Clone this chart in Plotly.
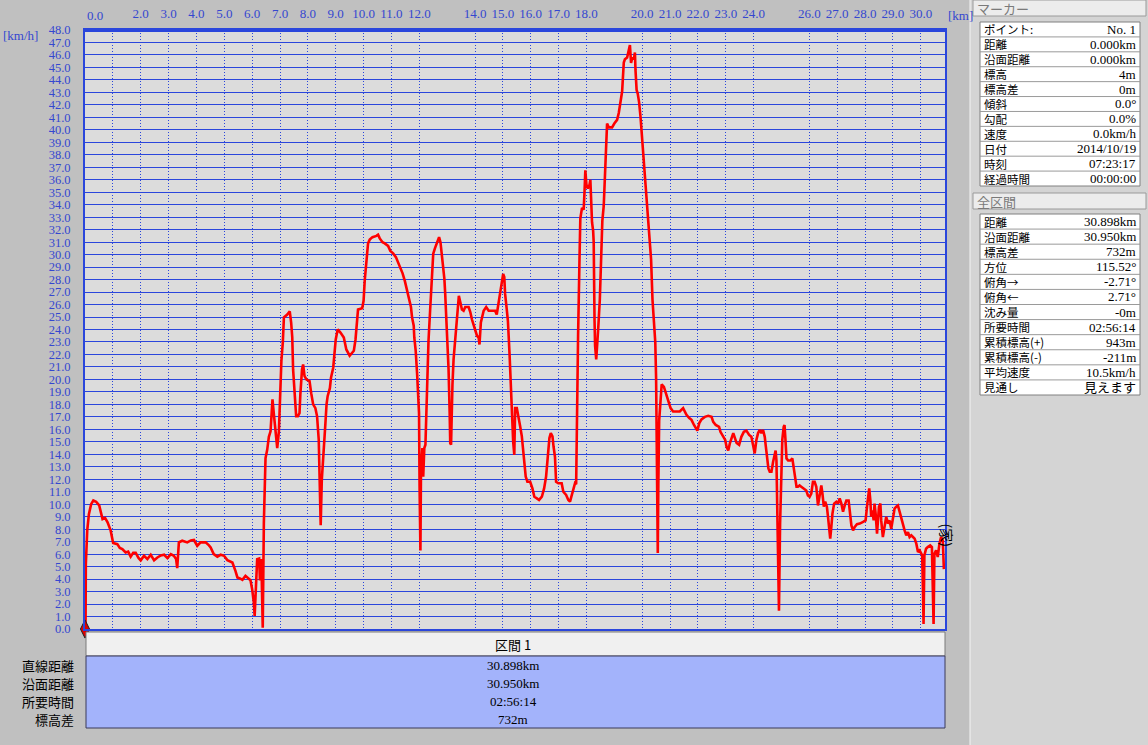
import plotly.graph_objects as go

W, H = 1148, 745

# ---------------- data ----------------
dist_km = [
    0.00, 0.02, 0.03, 0.05, 0.08, 0.14, 0.22, 0.30, 0.40, 0.51, 0.58, 0.63, 0.72, 0.81, 0.92, 1.01,
    1.16, 1.25, 1.34, 1.46, 1.55, 1.64, 1.73, 1.82, 1.92, 2.00, 2.12, 2.24, 2.36, 2.48, 2.60, 2.72,
    2.84, 2.96, 3.08, 3.19, 3.27, 3.31, 3.37, 3.49, 3.67, 3.80, 3.91, 4.03, 4.15, 4.33, 4.45, 4.51,
    4.62, 4.75, 4.87, 4.99, 5.11, 5.29, 5.40, 5.47, 5.56, 5.65, 5.76, 5.94, 6.00, 6.06, 6.09, 6.12,
    6.18, 6.25, 6.28, 6.33, 6.38, 6.42, 6.46, 6.48, 6.54, 6.60, 6.66, 6.70, 6.73, 6.78, 6.81, 6.87,
    6.90, 6.96, 6.99, 7.02, 7.05, 7.10, 7.14, 7.26, 7.35, 7.40, 7.44, 7.47, 7.52, 7.58, 7.64, 7.70,
    7.73, 7.79, 7.83, 7.88, 7.95, 8.06, 8.12, 8.19, 8.27, 8.33, 8.39, 8.43, 8.46, 8.50, 8.54, 8.57,
    8.63, 8.67, 8.71, 8.79, 8.83, 8.91, 8.95, 9.00, 9.07, 9.17, 9.29, 9.38, 9.50, 9.65, 9.71, 9.77,
    9.80, 9.95, 10.00, 10.04, 10.10, 10.16, 10.22, 10.32, 10.46, 10.52, 10.58, 10.68, 10.76, 10.88,
    10.96, 11.06, 11.16, 11.24, 11.32, 11.40, 11.48, 11.56, 11.62, 11.70, 11.74, 11.80, 11.82, 11.87,
    11.92, 11.95, 11.99, 12.01, 12.04, 12.06, 12.11, 12.14, 12.18, 12.22, 12.27, 12.33, 12.39, 12.44,
    12.50, 12.56, 12.62, 12.68, 12.71, 12.76, 12.80, 12.86, 12.90, 12.93, 12.99, 13.05, 13.09, 13.11,
    13.14, 13.16, 13.19, 13.23, 13.29, 13.35, 13.42, 13.47, 13.53, 13.59, 13.65, 13.77, 13.83, 13.89,
    13.95, 14.01, 14.07, 14.13, 14.16, 14.21, 14.25, 14.31, 14.40, 14.49, 14.66, 14.72, 14.78, 14.84,
    14.90, 14.96, 15.01, 15.05, 15.08, 15.14, 15.18, 15.24, 15.29, 15.33, 15.37, 15.41, 15.44, 15.50,
    15.56, 15.62, 15.68, 15.72, 15.76, 15.82, 15.88, 15.98, 16.06, 16.13, 16.22, 16.30, 16.40, 16.48,
    16.55, 16.60, 16.67, 16.72, 16.78, 16.82, 16.87, 16.91, 16.99, 17.11, 17.17, 17.27, 17.35, 17.41,
    17.47, 17.53, 17.59, 17.63, 17.64, 17.66, 17.70, 17.75, 17.78, 17.84, 17.90, 17.93, 17.96, 18.00,
    18.05, 18.11, 18.14, 18.17, 18.20, 18.24, 18.26, 18.29, 18.31, 18.35, 18.38, 18.42, 18.48, 18.53,
    18.57, 18.62, 18.66, 18.71, 18.74, 18.80, 18.92, 19.00, 19.10, 19.16, 19.22, 19.28, 19.34, 19.38,
    19.46, 19.52, 19.56, 19.60, 19.65, 19.70, 19.74, 19.76, 19.80, 19.84, 19.89, 19.94, 20.00, 20.04,
    20.08, 20.13, 20.18, 20.24, 20.28, 20.32, 20.37, 20.42, 20.47, 20.50, 20.52, 20.54, 20.56, 20.58,
    20.61, 20.66, 20.70, 20.78, 20.85, 20.94, 21.02, 21.11, 21.23, 21.35, 21.47, 21.53, 21.59, 21.69,
    21.77, 21.86, 21.93, 21.98, 22.05, 22.13, 22.25, 22.37, 22.49, 22.55, 22.64, 22.76, 22.81, 22.91,
    22.98, 23.03, 23.09, 23.15, 23.21, 23.27, 23.33, 23.39, 23.48, 23.56, 23.65, 23.74, 23.84, 23.92,
    23.98, 24.04, 24.10, 24.16, 24.22, 24.28, 24.34, 24.40, 24.44, 24.48, 24.53, 24.58, 24.64, 24.70,
    24.76, 24.79, 24.82, 24.85, 24.89, 24.91, 24.95, 24.99, 25.03, 25.08, 25.11, 25.14, 25.18, 25.24,
    25.32, 25.39, 25.44, 25.49, 25.54, 25.59, 25.65, 25.71, 25.80, 25.89, 25.95, 26.01, 26.07, 26.13,
    26.19, 26.25, 26.31, 26.37, 26.43, 26.47, 26.52, 26.57, 26.63, 26.67, 26.71, 26.75, 26.79, 26.83,
    26.89, 26.97, 27.03, 27.09, 27.15, 27.21, 27.27, 27.33, 27.41, 27.45, 27.51, 27.57, 27.63, 27.71,
    27.81, 27.93, 28.02, 28.07, 28.12, 28.15, 28.19, 28.22, 28.26, 28.31, 28.34, 28.38, 28.43, 28.46,
    28.50, 28.55, 28.58, 28.64, 28.70, 28.76, 28.82, 28.88, 28.94, 29.00, 29.06, 29.12, 29.18, 29.24,
    29.30, 29.36, 29.42, 29.48, 29.54, 29.60, 29.66, 29.72, 29.78, 29.84, 29.90, 29.96, 30.02, 30.05,
    30.08, 30.10, 30.13, 30.19, 30.25, 30.34, 30.40, 30.43, 30.46, 30.49, 30.55, 30.61, 30.67, 30.73,
    30.79, 30.83,
]
speed_kmh = [
    0.0, 0.3, 5.2, 6.9, 7.9, 9.2, 10.0, 10.3, 10.2, 9.9, 9.3, 8.8, 8.9, 8.55, 7.9, 6.9,
    6.8, 6.5, 6.4, 6.13, 6.2, 5.8, 6.1, 6.1, 5.7, 5.5, 5.87, 5.6, 5.95, 5.5, 5.73, 5.9,
    5.95, 5.68, 6.0, 5.87, 5.6, 4.88, 6.94, 7.07, 6.94, 7.1, 7.13, 6.67, 6.94, 6.94, 6.7, 6.54,
    6.0, 5.8, 5.95, 5.87, 5.52, 5.33, 4.66, 4.13, 4.05, 3.94, 4.26, 3.91, 3.19, 2.12, 1.05, 2.52,
    5.6, 5.65, 3.9, 5.6, 0.1, 8.46, 11.0, 13.7, 14.36, 15.4, 15.84, 17.3, 18.4, 17.2, 16.5, 15.7,
    14.5, 15.84, 18.1, 20.0, 21.5, 22.95, 24.97, 25.2, 25.45, 24.56, 23.36, 20.8, 19.2, 17.05, 17.05, 17.3,
    18.8, 20.8, 21.2, 20.27, 20.0, 19.87, 18.9, 18.0, 17.7, 17.05, 15.17, 12.08, 8.32, 11.95, 13.7, 14.36,
    16.5, 18.0, 18.66, 19.3, 20.13, 20.94, 21.74, 23.2, 24.0, 23.76, 23.36, 22.4, 21.9, 22.3, 23.2, 24.97,
    25.6, 25.7, 26.3, 27.9, 29.4, 30.9, 31.2, 31.4, 31.5, 31.6, 31.3, 31.0, 30.9, 30.7,
    30.3, 30.1, 29.8, 29.4, 29.0, 28.5, 27.9, 27.1, 26.4, 25.8, 24.97, 24.3, 23.36, 22.3,
    20.5, 18.9, 17.3, 11.4, 6.3, 12.6, 14.5, 12.2, 14.5, 14.77, 19.06, 23.1, 25.6, 28.0,
    30.07, 30.5, 30.9, 31.2, 31.4, 31.0, 30.2, 29.3, 28.05, 26.85, 23.76, 20.8, 17.3, 14.9,
    14.77, 17.45, 19.6, 21.6, 23.2, 25.4, 26.7, 26.2, 25.6, 25.5, 25.8, 25.8, 25.4, 24.8,
    24.4, 24.0, 23.5, 23.36, 22.8, 24.56, 24.97, 25.5, 25.8, 25.5, 25.5, 25.5, 25.2, 26.0,
    26.85, 27.9, 28.46, 28.2, 26.85, 25.6, 24.7, 22.0, 18.8, 16.5, 15.0, 13.96, 17.7, 17.7,
    17.05, 16.24, 15.44, 14.36, 13.3, 12.2, 11.8, 11.8, 11.27, 10.6, 10.47, 10.34, 10.6, 11.27,
    12.2, 13.8, 15.3, 15.7, 15.44, 14.6, 13.8, 11.8, 11.68, 11.68, 11.0, 10.74, 10.34, 10.2,
    10.74, 11.14, 11.68, 11.6, 13.8, 18.26, 23.57, 29.6, 32.9, 33.75, 33.6, 35.04, 36.76, 35.6,
    35.3, 35.6, 36.0, 34.3, 32.6, 31.9, 31.0, 24.7, 22.7, 21.6, 23.0, 24.0, 26.4, 30.74,
    32.7, 33.9, 35.9, 39.06, 40.5, 40.2, 40.2, 40.5, 40.8, 41.35, 42.35, 43.07, 45.4, 45.65,
    45.8, 46.37, 46.8, 45.37, 45.8, 45.65, 46.2, 44.8, 43.2, 42.9, 42.2, 41.06, 39.3, 38.05,
    36.5, 35.3, 34.2, 32.6, 31.0, 29.6, 26.4, 24.7, 23.0, 20.1, 16.0, 11.9, 6.1, 11.5,
    16.7, 18.3, 19.6, 19.4, 18.9, 18.1, 17.7, 17.43, 17.43, 17.43, 17.7, 17.43, 17.16, 16.9,
    16.76, 16.35, 16.09, 15.9, 16.5, 16.8, 17.0, 17.08, 17.0, 16.6, 16.35, 16.2, 15.8, 15.4,
    15.15, 14.6, 14.3, 14.9, 15.4, 15.7, 15.3, 14.9, 14.75, 15.4, 15.8, 15.9, 15.55, 15.4,
    14.75, 14.07, 15.15, 15.7, 15.95, 15.7, 15.95, 15.4, 14.6, 13.67, 12.87, 12.6, 12.6, 13.4,
    14.2, 14.3, 13.5, 10.3, 6.03, 1.47, 8.4, 13.0, 15.15, 16.2, 16.35, 15.3, 13.67, 13.5,
    13.5, 13.67, 12.87, 12.2, 11.4, 11.4, 11.5, 11.4, 11.26, 11.1, 10.7, 10.6, 10.86, 11.8,
    11.8, 11.4, 9.9, 10.86, 11.5, 10.86, 9.8, 10.2, 9.8, 9.0, 8.18, 7.24, 8.18, 9.25,
    10.05, 10.2, 10.05, 10.46, 10.05, 9.4, 9.9, 10.3, 10.3, 9.25, 8.3, 7.9, 8.18, 8.4,
    8.45, 8.58, 8.7, 9.8, 10.7, 11.26, 10.3, 9.0, 9.5, 8.7, 10.05, 9.25, 7.64, 8.45,
    9.8, 10.05, 8.7, 7.37, 8.18, 9.0, 8.45, 8.7, 8.04, 8.7, 9.65, 9.8, 9.9, 9.4,
    8.85, 8.45, 7.9, 7.5, 7.77, 7.37, 7.5, 7.37, 7.24, 6.84, 6.17, 6.3, 6.03, 5.9,
    3.0, 0.4, 5.9, 6.43, 6.57, 6.7, 6.57, 3.9, 0.4, 6.03, 6.3, 5.77, 6.84, 7.37,
    7.1, 4.8,
]

x_tick_vals = [0, 1, 2, 3, 4, 5, 6, 7, 8, 9, 10, 11, 12, 14, 15, 16, 17, 18,
               20, 21, 22, 23, 24, 26, 27, 28, 29, 30]
x_tick_text = ["", ""] + [f"{v}.0" for v in x_tick_vals[2:]]
y_tick_vals = list(range(0, 49))
y_tick_text = [f"{v}.0" for v in y_tick_vals]

marker_labels = ["ポイント:", "距離", "沿面距離", "標高", "標高差", "傾斜", "勾配",
                 "速度", "日付", "時刻", "経過時間"]
marker_values = ["No. 1", "0.000km", "0.000km", "4m", "0m", "0.0°", "0.0%",
                 "0.0km/h", "2014/10/19", "07:23:17", "00:00:00"]
total_labels = ["距離", "沿面距離", "標高差", "方位", "俯角→", "俯角←", "沈み量",
                "所要時間", "累積標高(+)", "累積標高(-)", "平均速度", "見通し"]
total_values = ["30.898km", "30.950km", "732m", "115.52°", "-2.71°", "2.71°", "-0m",
                "02:56:14", "943m", "-211m", "10.5km/h", "見えます"]
section_labels = ["直線距離", "沿面距離", "所要時間", "標高差"]
section_values = ["30.898km", "30.950km", "02:56:14", "732m"]

# ---------------- helpers ----------------
def fx(p):
    return p / W

def fy(p):
    return 1 - p / H

BLUE = "#2a46dc"
LBL = "#3447d0"
FONT = "Liberation Serif, Noto Sans CJK JP"
JFONT = "Noto Sans CJK JP, Liberation Serif"

fig = go.Figure()
fig.add_trace(go.Scatter(
    x=dist_km, y=speed_kmh, mode="lines",
    line=dict(color="#ff0000", width=2.6), hoverinfo="skip", showlegend=False,
))
# start marker icon
fig.add_trace(go.Scatter(
    x=[dist_km[0]], y=[speed_kmh[0]], mode="markers",
    marker=dict(symbol="diamond-tall", size=13, color="#e00000",
                line=dict(color="#202020", width=1)),
    cliponaxis=False, showlegend=False, hoverinfo="skip",
))

shapes = []
annotations = []

def note(x, y, text, xanchor="center", size=13, color="#000000", family=None, xref="paper"):
    annotations.append(dict(x=x, y=y, xref=xref, yref="paper", text=text,
                            xanchor=xanchor, yanchor="middle", showarrow=False,
                            font=dict(family=family or FONT, size=size, color=color)))

# right panel background
shapes.append(dict(type="rect", xref="paper", yref="paper", x0=fx(970), x1=1, y0=0, y1=1,
                   fillcolor="#d4d4d4", line=dict(width=0), layer="below"))
shapes.append(dict(type="line", xref="paper", yref="paper", x0=fx(970), x1=fx(970), y0=0, y1=1,
                   line=dict(color="#f4f4f4", width=1)))

# thick top border of plot
shapes.append(dict(type="line", xref="paper", yref="paper", x0=fx(85), x1=fx(946),
                   y0=fy(30.5), y1=fy(30.5), line=dict(color=BLUE, width=3)))

# bottom section table
shapes.append(dict(type="rect", xref="paper", yref="paper", x0=fx(86), x1=fx(945),
                   y0=fy(632), y1=fy(656), fillcolor="#f0f0f0",
                   line=dict(color="#7a7a7a", width=1)))
shapes.append(dict(type="rect", xref="paper", yref="paper", x0=fx(86), x1=fx(945),
                   y0=fy(656), y1=fy(728), fillcolor="#a3b3fb",
                   line=dict(color="#3a3a5a", width=1)))
note(fx(513), fy(644), "区間 1", family=JFONT, size=13)
row_y = [665, 683, 701, 719]
for lab, val, yy in zip(section_labels, section_values, row_y):
    note(fx(76), fy(yy), lab, xanchor="right", family=JFONT, size=13)
    note(fx(513), fy(yy), val, size=13)

# right panel tables
def panel(title, ty0, ty1, top, bottom, labels, values):
    shapes.append(dict(type="rect", xref="paper", yref="paper", x0=fx(973), x1=fx(1146),
                       y0=fy(ty1), y1=fy(ty0), fillcolor="#ececec",
                       line=dict(color="#9a9a9a", width=1)))
    note(fx(975), fy((ty0 + ty1) / 2), title, xanchor="left", family=JFONT, size=13,
         color="#7a7a7a")
    n = len(labels)
    rh = (bottom - top) / n
    shapes.append(dict(type="rect", xref="paper", yref="paper", x0=fx(980), x1=fx(1140),
                       y0=fy(bottom), y1=fy(top), fillcolor="#ffffff",
                       line=dict(color="#808080", width=1)))
    for i in range(1, n):
        yy = top + i * rh
        shapes.append(dict(type="line", xref="paper", yref="paper", x0=fx(980), x1=fx(1140),
                           y0=fy(yy), y1=fy(yy), line=dict(color="#9a9a9a", width=1)))
    for i, (lab, val) in enumerate(zip(labels, values)):
        yc = top + (i + 0.5) * rh
        note(fx(982), fy(yc), lab, xanchor="left", family=JFONT, size=11.5)
        note(fx(1138), fy(yc), val, xanchor="right", size=13)

panel("マーカー", 0, 16, 22, 186, marker_labels, marker_values)
panel("全区間", 193, 209, 214, 395, total_labels, total_values)

# axis unit labels and the first x label
note(fx(1), fy(35), "[km/h]", xanchor="left", color=LBL)
note(fx(946), fy(16), "[km]", xanchor="left", color=LBL)
note(0, fy(16), "0.0", xanchor="left", color=LBL, xref="x")
# end point label (rotated)
annotations.append(dict(x=dist_km[-1], y=7.5, xref="x", yref="y", text="(家)", textangle=90,
                        showarrow=False, xshift=3, font=dict(family=JFONT, size=14, color="#000000")))

fig.update_layout(
    width=W, height=H, autosize=False,
    margin=dict(l=0, r=0, t=0, b=0, pad=0, autoexpand=False),
    paper_bgcolor="#c0c0c0", plot_bgcolor="#dcdcdc",
    showlegend=False,
    shapes=shapes, annotations=annotations,
    xaxis=dict(
        domain=[fx(85), fx(945)], range=[0, 30.87], side="top", automargin=False,
        tickmode="array", tickvals=x_tick_vals, ticktext=x_tick_text,
        showgrid=True, gridcolor=BLUE, gridwidth=1, griddash="1px,2px",
        zeroline=False, showline=True, linecolor=BLUE, linewidth=2, mirror=True,
        ticks="", ticklabelstandoff=5,
        tickfont=dict(family=FONT, size=13, color=LBL), fixedrange=True,
    ),
    yaxis=dict(
        domain=[1 - 629 / H, 1 - 30 / H], range=[0, 48], automargin=False,
        tickmode="array", tickvals=y_tick_vals, ticktext=y_tick_text,
        showgrid=True, gridcolor=BLUE, gridwidth=1,
        zeroline=False, showline=True, linecolor=BLUE, linewidth=2, mirror=True,
        ticks="", ticklabelstandoff=10,
        tickfont=dict(family=FONT, size=12.5, color=LBL), fixedrange=True,
    ),
)

fig.write_html(
    "out.html",
    config={"displayModeBar": False},
    post_script="document.body.style.margin='0px';document.body.style.overflow='hidden';",
)
